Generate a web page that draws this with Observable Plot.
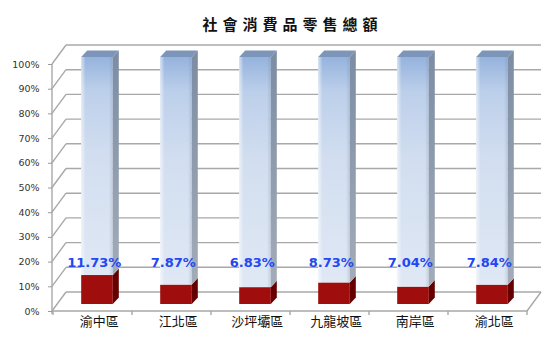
<!DOCTYPE html>
<html>
<head>
<meta charset="utf-8">
<script src="https://cdn.jsdelivr.net/npm/d3@7"></script>
<script src="https://cdn.jsdelivr.net/npm/@observablehq/plot@0.6"></script>
<style>
  html, body { margin: 0; padding: 0; background: #fff; }
</style>
</head>
<body>
<div id="chart"></div>
<script>
// ---- data ----
const title = "社會消費品零售總額";
const categories = ["渝中區", "江北區", "沙坪壩區", "九龍坡區", "南岸區", "渝北區"];
const shares = [11.73, 7.87, 6.83, 8.73, 7.04, 7.84];
const total = 100;
const yTicks = [0, 10, 20, 30, 40, 50, 60, 70, 80, 90, 100];
const labelLevel = 19.8;

// ---- 3D look ----
const WALL = {dx: 14, dy: -19};     // depth of the back wall
const BARPOS = {dx: 4.5, dy: -7};   // bars sit slightly behind the front plane
const BARD = {dx: 6, dy: -6.5};     // bar depth
const gridColor = "#a8a8a8";

function walls(index, scales, values, dims) {
  const {x, y} = scales;
  const x0 = dims.marginLeft, x1 = dims.width - dims.marginRight;
  const g = d3.create("svg:g").attr("fill", "none").attr("stroke", gridColor).attr("stroke-width", 1.4);
  for (const t of yTicks) {
    const yy = y(t);
    g.append("line").attr("x1", x0 + WALL.dx).attr("x2", x1 + WALL.dx)
      .attr("y1", yy + WALL.dy).attr("y2", yy + WALL.dy);
    g.append("line").attr("x1", x0).attr("y1", yy).attr("x2", x0 + WALL.dx).attr("y2", yy + WALL.dy);
  }
  const y0 = y(0);
  g.append("path").attr("d", `M${x0},${y0}H${x1}L${x1 + WALL.dx},${y0 + WALL.dy}`);
  g.append("line").attr("x1", x0).attr("x2", x0).attr("y1", y0 + 3).attr("y2", y(total));
  const bounds = categories.map(c => x(c)).concat([x1]);
  for (const bx of bounds) {
    g.append("line").attr("x1", bx).attr("x2", bx).attr("y1", y0).attr("y2", y0 + 4);
  }
  return g.node();
}

function bars(index, scales, values, dims) {
  const {x, y} = scales;
  const step = x.bandwidth ? x.bandwidth() : (x(categories[1]) - x(categories[0]));
  const w = step * 0.4;
  const g = d3.create("svg:g");
  const defs = g.append("defs");
  const gf = defs.append("linearGradient").attr("id", "gFront").attr("x1", 0).attr("x2", 0).attr("y1", 0).attr("y2", 1);
  gf.append("stop").attr("offset", "0%").attr("stop-color", "#95b3dd");
  gf.append("stop").attr("offset", "15%").attr("stop-color", "#bccfea");
  gf.append("stop").attr("offset", "45%").attr("stop-color", "#d2def0");
  gf.append("stop").attr("offset", "100%").attr("stop-color", "#dfe8f4");
  const gs = defs.append("linearGradient").attr("id", "gSide").attr("x1", 0).attr("x2", 0).attr("y1", 0).attr("y2", 1);
  gs.append("stop").attr("offset", "0%").attr("stop-color", "#7c8ca3");
  gs.append("stop").attr("offset", "100%").attr("stop-color", "#a3acb8");
  const gh = defs.append("linearGradient").attr("id", "gEdge").attr("x1", 0).attr("x2", 1).attr("y1", 0).attr("y2", 0);
  gh.append("stop").attr("offset", "0%").attr("stop-color", "#ffffff").attr("stop-opacity", 0.6);
  gh.append("stop").attr("offset", "14%").attr("stop-color", "#ffffff").attr("stop-opacity", 0);
  gh.append("stop").attr("offset", "88%").attr("stop-color", "#5a6f8c").attr("stop-opacity", 0);
  gh.append("stop").attr("offset", "100%").attr("stop-color", "#5a6f8c").attr("stop-opacity", 0.2);

  categories.forEach((c, i) => {
    const cx = x(c) + step / 2 + BARPOS.dx;
    const l = cx - w / 2, r = cx + w / 2;
    const yb = y(0) + BARPOS.dy, yv = y(shares[i]) + BARPOS.dy, yt = y(total) + BARPOS.dy;
    g.append("rect").attr("x", l).attr("y", yv).attr("width", w).attr("height", yb - yv).attr("fill", "#a00d0d");
    g.append("path").attr("d", `M${r},${yb}L${r + BARD.dx},${yb + BARD.dy}L${r + BARD.dx},${yv + BARD.dy}L${r},${yv}Z`)
      .attr("fill", "#660000");
    g.append("rect").attr("x", l).attr("y", yt).attr("width", w).attr("height", yv - yt).attr("fill", "url(#gFront)");
    g.append("rect").attr("x", l).attr("y", yt).attr("width", w).attr("height", yv - yt).attr("fill", "url(#gEdge)");
    g.append("path").attr("d", `M${r},${yv}L${r + BARD.dx},${yv + BARD.dy}L${r + BARD.dx},${yt + BARD.dy}L${r},${yt}Z`)
      .attr("fill", "url(#gSide)");
    g.append("path").attr("d", `M${l},${yt}L${l + BARD.dx},${yt + BARD.dy}L${r + BARD.dx},${yt + BARD.dy}L${r},${yt}Z`)
      .attr("fill", "#7d95b9");
  });
  return g.node();
}

const chart = Plot.plot({
  width: 553,
  height: 348,
  marginTop: 64,
  marginBottom: 37,
  marginLeft: 52,
  marginRight: 26,
  style: {fontFamily: "'DejaVu Sans', sans-serif", fontSize: "9.5px", background: "#fff"},
  x: {type: "band", domain: categories, padding: 0, axis: null},
  y: {domain: [0, total], axis: null},
  marks: [
    walls,
    bars,
    Plot.axisY(yTicks, {
      tickFormat: d => d + "%",
      tickSize: 4,
      tickPadding: 9,
      stroke: "#9a9a9a",
      fill: "#333",
      fontSize: 9.5,
      label: null
    }),
    Plot.text(categories, {
      x: d => d,
      frameAnchor: "bottom",
      dy: 14,
      dx: 6.3,
      fontFamily: "'Noto Sans CJK TC', sans-serif",
      fontSize: 13,
      fill: "#111"
    }),
    Plot.text(shares, {
      x: (d, i) => categories[i],
      y: () => labelLevel,
      text: d => d.toFixed(2) + "%",
      dx: 1.3,
      fontFamily: "'DejaVu Sans', sans-serif",
      fontWeight: "bold",
      fontSize: 13,
      fill: "#2347f2"
    }),
    Plot.text([title], {
      frameAnchor: "top",
      dy: -39,
      dx: 2.5,
      lineAnchor: "middle",
      fontFamily: "'Noto Sans CJK TC', sans-serif",
      fontWeight: "bold",
      fontSize: 15,
      fill: "#111"
    })
  ]
});
d3.select(chart).selectAll("text")
  .filter(function () { return this.textContent === title; })
  .style("letter-spacing", "5px");
document.getElementById("chart").appendChild(chart);
</script>
</body>
</html>
